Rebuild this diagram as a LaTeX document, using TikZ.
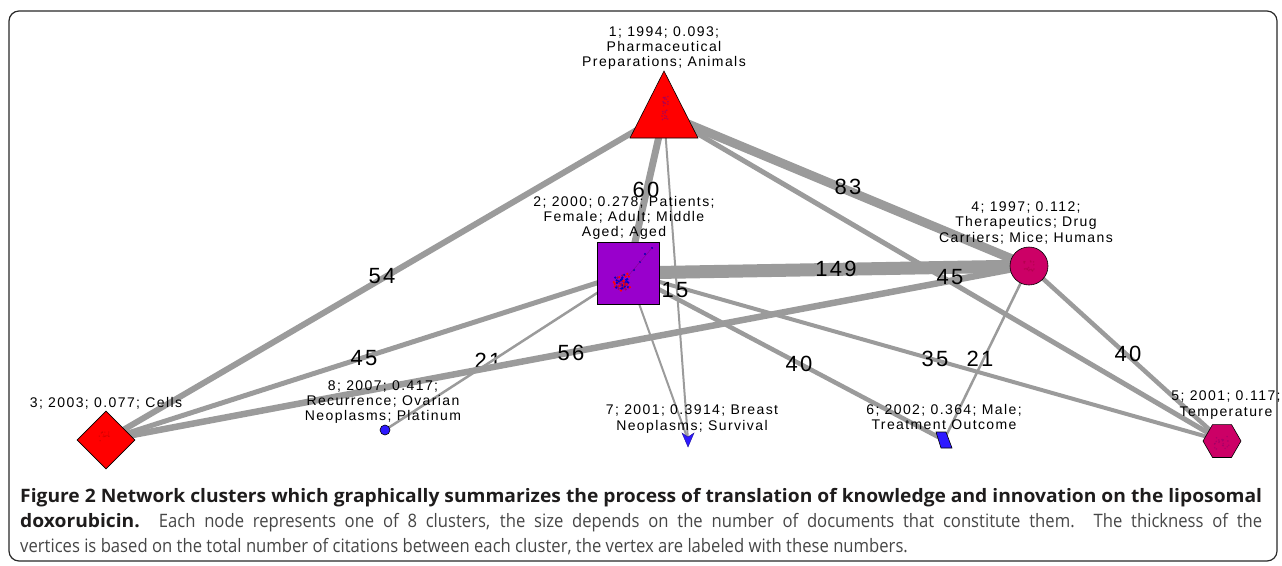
\documentclass[tikz,border=0pt]{standalone}
\usepackage{fontspec}
\setmainfont{Liberation Sans}
\newfontfamily\lblfont[LetterSpace=10]{Liberation Sans}
\newfontfamily\capfont[FakeStretch=0.9]{Open Sans}
\newfontfamily\capbold[FakeStretch=1.04]{Open Sans}
\usetikzlibrary{shapes.geometric,calc}
\definecolor{edgegray}{RGB}{155,155,155}
\definecolor{nred}{RGB}{255,0,0}
\definecolor{npurple}{RGB}{153,0,204}
\definecolor{nmag}{RGB}{204,0,102}
\definecolor{nblue}{RGB}{45,25,255}
\definecolor{capdark}{RGB}{30,28,28}
\definecolor{capgray}{RGB}{70,70,70}
\definecolor{framecol}{RGB}{40,40,40}
\begin{document}
\begin{tikzpicture}[x=1pt,y=-1pt,
  edge/.style={draw=edgegray, line width=#1},
  nodelbl/.style={font=\lblfont\fontsize{14}{15.3}\selectfont, align=center, inner sep=0pt},
  numlbl/.style={font=\lblfont\fontsize{22}{22}\selectfont, inner sep=0pt},
  shapeborder/.style={draw=black, line width=0.6pt},
  capline/.style={anchor=base west, inner sep=0pt, font=\capfont\fontsize{18.5}{20}\selectfont}]
\useasboundingbox (0,0) rectangle (1282,565);
\draw[line width=1.2pt, draw=framecol, rounded corners=10pt] (9,11) rectangle (1277,561);

% cluster centres
\coordinate (c1) at (664,114);
\coordinate (c2) at (628,273);
\coordinate (c3) at (106,440);
\coordinate (c4) at (1029,266);
\coordinate (c5) at (1222,441);
\coordinate (c6) at (944,440);
\coordinate (c7) at (688,440);
\coordinate (c8) at (385,430);

% edge label drawn below an edge
\node[numlbl] (e28) at (488,361) {21};

% edges
\draw[edge=6pt] (c1) -- (c3);
\draw[edge=7pt] (c1) -- (c2);
\draw[edge=9pt] (c1) -- (c4);
\draw[edge=5pt] (c1) -- (c5);
\draw[edge=2pt] (c1) -- (c7);
\draw[edge=13pt] (c2) -- (c4);
\draw[edge=5pt] (c2) -- (c3);
\draw[edge=2.5pt] (c2) -- (c8);
\draw[edge=2pt] (c2) -- (c7);
\draw[edge=4.5pt] (c2) -- (c6);
\draw[edge=4pt] (c2) -- (c5);
\draw[edge=2.5pt] (c4) -- (c6);
\draw[edge=4.5pt] (c4) -- (c5);
\draw[edge=6.5pt] (c3) -- (c4);

% nodes
\draw[shapeborder, fill=nred] (664,71) -- (698,138) -- (630,138) -- cycle;
\node[shapeborder, fill=npurple, minimum size=62pt, inner sep=0pt] (n2) at (c2) {};
\node[diamond, shapeborder, fill=nred, minimum width=58pt, minimum height=58pt, inner sep=0pt] (n3) at (c3) {};
\node[circle, shapeborder, fill=nmag, minimum size=38pt, inner sep=0pt] (n4) at (c4) {};
\node[regular polygon, regular polygon sides=6, shapeborder, fill=nmag, minimum size=38pt, inner sep=0pt] (n5) at (c5) {};
\draw[shapeborder, fill=nblue] (936,432) -- (946,432) -- (952,448) -- (941,448) -- cycle;
\draw[fill=nblue, draw=nblue!60!black, line width=0.4pt] (682,433) -- (688,437) -- (694,433) -- (688,447) -- cycle;
\node[circle, shapeborder, fill=nblue, minimum size=10pt, inner sep=0pt] (n8) at (c8) {};

% scattered documents inside the clusters
\pgfmathsetseed{11}
\foreach \i in {1,...,60}{
  \pgfmathsetmacro{\dx}{5*rand+5*rand}
  \pgfmathsetmacro{\dy}{5*rand+5*rand}
  \pgfmathtruncatemacro{\k}{mod(\i,3)}
  \ifnum\k=0 \def\dc{red}\else\ifnum\k=1 \def\dc{blue!80!black}\else\def\dc{red!60!blue}\fi\fi
  \fill[\dc] ($(622,282)+(\dx,\dy)$) circle (1.3pt);
}
\foreach \p in {(640,262),(645,254),(652,248),(634,270)}{\fill[blue!70!black] \p circle (1.2pt);}
\draw[red!50!blue, line width=0.3pt] (628,276) -- (652,248);
\foreach \i in {1,...,25}{
  \pgfmathsetmacro{\dx}{3*rand}
  \pgfmathsetmacro{\dy}{12*rand}
  \fill[red!60!blue, opacity=0.7] ($(665,108)+(\dx,\dy)$) circle (0.9pt);
}
\foreach \i in {1,...,18}{
  \pgfmathsetmacro{\dx}{6*rand}
  \pgfmathsetmacro{\dy}{6*rand}
  \fill[red!70!blue, opacity=0.7] ($(1030,266)+(\dx,\dy)$) circle (0.9pt);
}
\foreach \i in {1,...,20}{
  \pgfmathsetmacro{\dx}{8*rand}
  \pgfmathsetmacro{\dy}{7*rand}
  \fill[red!60!blue, opacity=0.6] ($(1222,443)+(\dx,\dy)$) circle (0.9pt);
}
\foreach \i in {1,...,15}{
  \pgfmathsetmacro{\dx}{5*rand}
  \pgfmathsetmacro{\dy}{5*rand}
  \fill[red!70!black, opacity=0.5] ($(104,436)+(\dx,\dy)$) circle (0.7pt);
}

% cluster labels
\node[nodelbl] (l1) at (664,48) {1; 1994; 0.093;\\Pharmaceutical\\Preparations; Animals};
\node[nodelbl] (l2) at (624,218) {2; 2000; 0.278; Patients;\\Female; Adult; Middle\\Aged; Aged};
\node[nodelbl] (l3) at (106,403) {3; 2003; 0.077; Cells};
\node[nodelbl] (l4) at (1026,223) {4; 1997; 0.112;\\Therapeutics; Drug\\Carriers; Mice; Humans};
\node[nodelbl] (l5) at (1226,405) {5; 2001; 0.117;\\Temperature};
\node[nodelbl] (l6) at (944,417) {6; 2002; 0.364; Male;\\Treatment Outcome};
\node[nodelbl] (l7) at (692,419) {7; 2001; 0.3914; Breast\\Neoplasms; Survival};
\node[nodelbl] (l8) at (383,402) {8; 2007; 0.417;\\Recurrence; Ovarian\\Neoplasms; Platinum};

% edge labels
\node[numlbl] (e13) at (382,276) {54};
\node[numlbl] (e12) at (646,190) {60};
\node[numlbl] (e14) at (848,187) {83};
\node[numlbl] (e15) at (950,277) {45};
\node[numlbl] (e17) at (675,290) {15};
\node[numlbl] (e24) at (836,269) {149};
\node[numlbl] (e23) at (364,358) {45};
\node[numlbl] (e34) at (571,353) {56};
\node[numlbl] (e26) at (799,364) {40};
\node[numlbl] (e25) at (935,359) {35};
\node[numlbl] (e46) at (980,359) {21};
\node[numlbl] (e45) at (1128,354) {40};

% caption
\node[capline] (cap1) at (20,502) {\makebox[1242pt][s]{\color{capdark}\capbold\bfseries Figure 2 Network clusters which graphically summarizes the process of translation of knowledge and innovation on the liposomal}};
\node[capline] (cap2) at (20,527) {\makebox[1242pt][s]{{\color{capdark}\capbold\bfseries doxorubicin.} \color{capgray}Each node represents one of 8 clusters, the size depends on the number of documents that constitute them. The thickness of the}};
\node[capline] (cap3) at (20,552) {\color{capgray}vertices is based on the total number of citations between each cluster, the vertex are labeled with these numbers.};
\end{tikzpicture}
\end{document}
